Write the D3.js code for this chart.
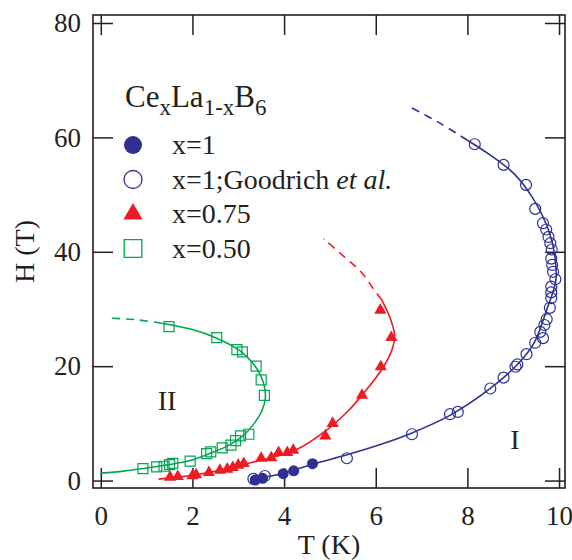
<!DOCTYPE html>
<html>
<head>
<meta charset="utf-8">
<script src="https://cdn.jsdelivr.net/npm/d3@7"></script>
<style>
  html, body { margin: 0; padding: 0; background: #fff; }
  svg { display: block; font-family: "Liberation Serif", "Times New Roman", serif; }
</style>
</head>
<body>
<svg id="chart" width="572" height="560"></svg>
<script>
// Phase boundaries of CexLa1-xB6 in the H–T plane
const xTicks = [0, 2, 4, 6, 8, 10];
const yTicks = [0, 20, 40, 60, 80];

// measured points [T (K), H (T)]
const blueFilled = [[3.37,0.1],[3.53,0.4],[3.98,1.2],[4.21,1.7],[4.62,2.95]];
const blueOpen = [[3.33,0.3],[3.58,0.8],[5.37,3.9],[6.79,8.1],[7.62,11.6],[7.79,12.0],[8.50,16.1],
  [8.79,18.0],[9.05,19.9],[9.09,20.3],[9.29,22.1],[9.48,24.1],[9.65,24.9],[9.59,26.0],[9.68,27.2],
  [9.73,28.2],[9.80,30.2],[9.83,31.9],[9.83,32.9],[9.83,33.9],[9.92,35.2],[9.87,36.5],[9.85,37.7],
  [9.83,38.8],[9.84,40.4],[9.81,41.5],[9.77,42.6],[9.72,43.9],[9.65,45.0],[9.48,47.5],[9.28,51.7],
  [8.79,55.2],[8.16,58.8]];
const redTri = [[1.51,0.6],[1.68,0.7],[2.0,0.85],[2.08,1.0],[2.36,1.4],[2.6,1.8],[2.76,2.0],[2.88,2.3],
  [3.0,2.7],[3.12,3.0],[3.5,3.9],[3.72,4.0],[3.88,4.9],[4.07,4.9],[4.2,5.3],[4.9,7.8],[5.06,10.0],
  [5.7,14.9],[6.11,19.9],[6.34,25.0],[6.10,29.8]];
const greenSq = [[0.92,2.1],[1.22,2.4],[1.38,2.5],[1.50,2.8],[1.57,3.0],[1.95,3.4],[2.31,4.7],[2.40,5.0],
  [2.65,5.7],[2.84,6.2],[2.94,7.0],[3.05,7.8],[3.23,8.1],[3.57,14.9],[3.50,17.6],[3.39,20.0],
  [3.09,22.5],[2.97,22.9],[2.53,25.0],[1.49,26.9]];

// boundary curves (solid part, then dashed extrapolation)
const blueCurve = [[3.28,0],[3.6,0.6],[4.0,1.3],[4.6,2.8],[5.37,4.5],[6.1,6.3],[6.75,8.2],[7.63,11.45],
  [8.5,16.1],[9.08,20.2],[9.45,24.0],[9.74,30.1],[9.93,35],[9.9,39.7],[9.77,43.8],[9.41,49.6],
  [9.01,53.7],[8.5,56.9],[8.0,59.5]];
const blueDash = [[8.0,59.5],[7.4,62.5],[6.68,65.6]];
const redCurve = [[1.26,0.25],[2.06,1.0],[2.6,1.8],[3.1,2.8],[3.51,3.6],[4.24,5.3],[4.97,9.1],
  [5.4,12.2],[5.73,15.2],[6.17,19.9],[6.38,23.5],[6.41,25.5],[6.32,28.3],[6.13,31.6]];
const redDash = [[6.13,31.6],[5.95,33.5],[5.7,36.3],[5.33,39.0],[4.86,42.3]];
const greenCurve = [[0.0,1.3],[0.5,1.65],[0.93,2.1],[1.5,2.8],[1.95,3.5],[2.4,4.8],[2.8,6.2],[3.1,7.8],
  [3.35,10],[3.52,12.3],[3.59,14.3],[3.57,16.5],[3.48,18.5],[3.30,20.7],[3.02,22.8],[2.53,24.9],
  [2.0,26.4],[1.33,27.5]];
const greenDash = [[1.33,27.5],[0.8,28.1],[0.2,28.4]];

const legendLabels = ["x=1", "x=1;Goodrich ", "x=0.75", "x=0.50"];

const BLUE = "#2e3192", RED = "#ed1c24", GREEN = "#00a651", INK = "#231f20";
const SERIF = "'Liberation Serif', 'Times New Roman', serif";

const svg = d3.select("#chart");
const L = 93, R = 565, T = 15, B = 488;

const x = d3.scaleLinear().domain([-0.17, 10.13]).range([L, R]);
const y = d3.scaleLinear().domain([-1.3, 81.4]).range([B, T]);

// axes with inward ticks on all four sides
function styleAxis(g) {
  g.attr("font-family", SERIF);
  g.select(".domain").remove();
  g.selectAll(".tick line").attr("stroke", INK).attr("stroke-width", 1.5);
  g.selectAll(".tick text").attr("fill", INK).style("font-size", "27px").style("font-family", SERIF);
}
svg.append("g").attr("transform", `translate(0,${B})`)
  .call(d3.axisBottom(x).tickValues(xTicks).tickSizeInner(-20).tickSizeOuter(0).tickPadding(18))
  .call(styleAxis);
svg.append("g").attr("transform", `translate(0,${T})`)
  .call(d3.axisTop(x).tickValues(xTicks).tickSizeInner(-20).tickSizeOuter(0).tickFormat(""))
  .call(styleAxis);
svg.append("g").attr("transform", `translate(${L},0)`)
  .call(d3.axisLeft(y).tickValues(yTicks).tickSizeInner(-20).tickSizeOuter(0).tickPadding(12))
  .call(styleAxis);
svg.append("g").attr("transform", `translate(${R},0)`)
  .call(d3.axisRight(y).tickValues(yTicks).tickSizeInner(-20).tickSizeOuter(0).tickFormat(""))
  .call(styleAxis);

svg.append("rect").attr("x", L).attr("y", T).attr("width", R - L).attr("height", B - T)
  .attr("fill", "none").attr("stroke", INK).attr("stroke-width", 1.6);

// axis titles
svg.append("text").attr("x", (L + R) / 2).attr("y", 554).attr("text-anchor", "middle")
  .attr("fill", INK).style("font-size", "28px").text("T (K)");
svg.append("text").attr("transform", `translate(34,${(T + B) / 2}) rotate(-90)`)
  .attr("text-anchor", "middle").attr("fill", INK).style("font-size", "28px").text("H (T)");

// boundary lines
const line = d3.line().x(d => x(d[0])).y(d => y(d[1])).curve(d3.curveCatmullRom.alpha(0.5));
function drawCurve(data, color, dashed) {
  svg.append("path").datum(data).attr("d", line).attr("fill", "none")
    .attr("stroke", color).attr("stroke-width", 1.6)
    .attr("stroke-dasharray", dashed ? "8,6" : null);
}
drawCurve(blueCurve, BLUE, false);
drawCurve(blueDash, BLUE, true);
drawCurve(redCurve, RED, false);
drawCurve(redDash, RED, true);
drawCurve(greenCurve, GREEN, false);
drawCurve(greenDash, GREEN, true);

// markers
const sym = (type, size) => d3.symbol().type(type).size(size)();
function drawPoints(data, type, size, fill, stroke) {
  svg.append("g").selectAll("path").data(data).join("path")
    .attr("transform", d => `translate(${x(d[0])},${y(d[1])})`)
    .attr("d", sym(type, size))
    .attr("fill", fill).attr("stroke", stroke).attr("stroke-width", stroke === "none" ? 0 : 1.2);
}
drawPoints(greenSq, d3.symbolSquare, 100, "none", GREEN);
drawPoints(redTri, d3.symbolTriangle, 64, RED, "none");
drawPoints(blueOpen, d3.symbolCircle, 95, "none", BLUE);
drawPoints(blueFilled, d3.symbolCircle, 95, BLUE, "none");

// region labels
svg.append("text").attr("x", 167).attr("y", 410).attr("text-anchor", "middle")
  .attr("fill", INK).style("font-size", "28px").text("II");
svg.append("text").attr("x", 515).attr("y", 449).attr("text-anchor", "middle")
  .attr("fill", INK).style("font-size", "28px").text("I");

// legend
const title = svg.append("text").attr("x", 125).attr("y", 107).attr("fill", INK).style("font-size", "31px");
title.append("tspan").text("Ce");
title.append("tspan").attr("dy", 8).style("font-size", "23px").text("x");
title.append("tspan").attr("dy", -8).text("La");
title.append("tspan").attr("dy", 8).style("font-size", "23px").text("1-x");
title.append("tspan").attr("dy", -8).text("B");
title.append("tspan").attr("dy", 8).style("font-size", "23px").text("6");

const legendSyms = [
  { type: d3.symbolCircle, size: 254, fill: BLUE, stroke: "none" },
  { type: d3.symbolCircle, size: 254, fill: "none", stroke: BLUE },
  { type: d3.symbolTriangle, size: 160, fill: RED, stroke: "none" },
  { type: d3.symbolSquare, size: 310, fill: "none", stroke: GREEN }
];
legendLabels.forEach((lab, i) => {
  const cy = 145 + i * 34.5;
  const s = legendSyms[i];
  svg.append("path").attr("transform", `translate(133,${cy})`)
    .attr("d", sym(s.type, s.size)).attr("fill", s.fill)
    .attr("stroke", s.stroke).attr("stroke-width", s.stroke === "none" ? 0 : 1.3);
  const t = svg.append("text").attr("x", 172).attr("y", cy + 9).attr("fill", INK).style("font-size", "28px");
  t.append("tspan").text(lab);
  if (i === 1) t.append("tspan").style("font-style", "italic").text("et al.");
});
</script>
</body>
</html>
